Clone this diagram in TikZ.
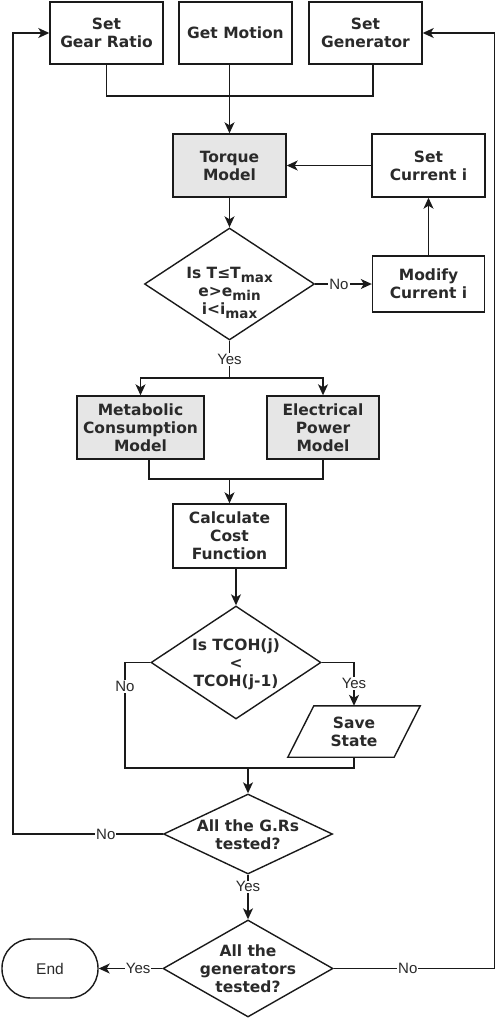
\documentclass[tikz,border=0pt]{standalone}
\usepackage{fontspec}
\setmainfont{DejaVu Sans}
\newfontfamily\labfont{Liberation Sans}
\usetikzlibrary{shapes.geometric,arrows.meta}
\definecolor{linec}{HTML}{1A1A1A}
\definecolor{textc}{HTML}{2A2A2A}
\definecolor{grayf}{HTML}{E6E6E6}
\newcommand\sbs[1]{\raisebox{-3.5pt}{\fontsize{13.5}{13.5}\selectfont #1}}
\tikzset{
  line/.style={draw=linec, line width=1.4pt},
  arr/.style={line, -{Stealth[length=11pt,width=10pt,inset=3pt]}},
  bfont/.style={font=\bfseries\fontsize{15.5}{18}\selectfont, text=textc},
  box/.style={draw=linec, line width=1.4pt, rectangle, minimum width=113pt, minimum height=62pt, inner sep=0pt, align=center, bfont},
  gbox/.style={box, fill=grayf},
  dia/.style={draw=linec, line width=1.4pt, diamond, inner sep=0pt},
  btxt/.style={align=center, bfont, inner sep=0pt},
  lab/.style={fill=white, inner sep=1pt, font=\labfont\fontsize{15}{15}\selectfont, text=textc},
}
\begin{document}
\begin{tikzpicture}[x=1pt,y=-1pt]
\useasboundingbox (0,0) rectangle (498,1020);
% boxes
\node[box] (gear) at (106.5,33) {Set\\Gear Ratio};
\node[box] (motion) at (235.5,33) {Get Motion};
\node[box] (gen) at (365.5,33) {Set\\Generator};
\node[gbox, minimum height=63pt] (torque) at (229.5,165.5) {Torque\\Model};
\node[box, minimum height=63pt] (setcur) at (428.5,165.5) {Set\\Current i};
\node[dia, minimum width=170pt, minimum height=112pt] (d1) at (229.5,284) {};
\node[btxt] (d1t) at (229.5,293) {Is T≤T\sbs{max}\\e>e\sbs{min}\\i<i\sbs{max}};
\node[box, minimum width=112pt, minimum height=56pt] (modcur) at (428.5,284) {Modify\\Current i};
\node[gbox, minimum width=127pt, minimum height=63pt] (metab) at (140.5,427.5) {Metabolic\\Consumption\\Model};
\node[gbox, minimum width=112pt, minimum height=63pt] (elec) at (323,427.5) {Electrical\\Power\\Model};
\node[box, minimum height=64pt] (calc) at (229.5,536) {Calculate\\Cost\\Function};
\node[dia, minimum width=170pt, minimum height=113pt] (d2) at (236,662.5) {};
\node[btxt] (d2t) at (236,664) {Is TCOH(j)\\<\\TCOH(j-1)};
\node[btxt, minimum width=106pt, minimum height=51pt] (save) at (354,731.5) {Save\\State};
\draw[line] ([xshift=-13pt]save.south west) -- ([xshift=13pt]save.north west)
  -- ([xshift=13pt]save.north east) -- ([xshift=-13pt]save.south east) -- cycle;
\node[dia, minimum width=169pt, minimum height=80pt] (d3) at (248,834) {};
\node[btxt] (d3t) at (248,835) {All the G.Rs\\tested?};
\node[dia, minimum width=170pt, minimum height=97pt] (d4) at (248,968.5) {};
\node[btxt] (d4t) at (248,969) {All the\\generators\\tested?};
\node[draw=linec, line width=1.4pt, rounded corners=29pt, minimum width=96pt, minimum height=59pt, inner sep=0pt,
  font=\labfont\fontsize{15.5}{15.5}\selectfont, text=textc] (end) at (50,968.5) {End};
% connectors
\coordinate (bus) at (230,96);
\draw[line] (gear.south) |- (bus);
\draw[line] ([xshift=7.5pt]gen.south) |- (bus);
\draw[arr] (motion.south -| torque.north) -- (torque.north);
\draw[arr] (setcur.west) -- (torque.east);
\draw[arr] (torque.south) -- (d1.north);
\draw[arr] (d1.east) -- node[lab, pos=0.42]{No} (modcur.west);
\draw[arr] (modcur.north) -- (setcur.south);
\coordinate (split) at (229.5,378);
\draw[line] (d1.south) -- node[lab]{Yes} (split);
\draw[arr] (split) -| (metab.north);
\draw[arr] (split) -| (elec.north);
\coordinate (m1) at (229.5,479);
\draw[line] ([xshift=8.5pt]metab.south) |- (m1);
\draw[line] (elec.south) |- (m1);
\draw[arr] (m1) -- (calc.north);
\draw[arr] (calc.south -| d2.north) -- (d2.north);
\coordinate (m2) at (248,768);
\coordinate (nocorner) at (125,768);
\draw[line] (d2.west) -| node[lab, pos=0.613]{No} (nocorner) -- (m2);
\draw[arr] (d2.east) -| node[lab, pos=0.74]{Yes} (save.north);
\draw[line] (save.south) |- (m2);
\draw[arr] (m2) -- (d3.north);
\draw[arr] (d3.west) -- node[lab, pos=0.38]{No} ++(-150,0) |- (gear.west);
\draw[arr] (d3.south) -- node[lab, pos=0.27]{Yes} (d4.north);
\draw[arr] (d4.west) -- node[lab, pos=0.38]{Yes} (end.east);
\draw[arr] (d4.east) -- node[lab, pos=0.46]{No} ++(161,0) |- (gen.east);
\end{tikzpicture}
\end{document}
